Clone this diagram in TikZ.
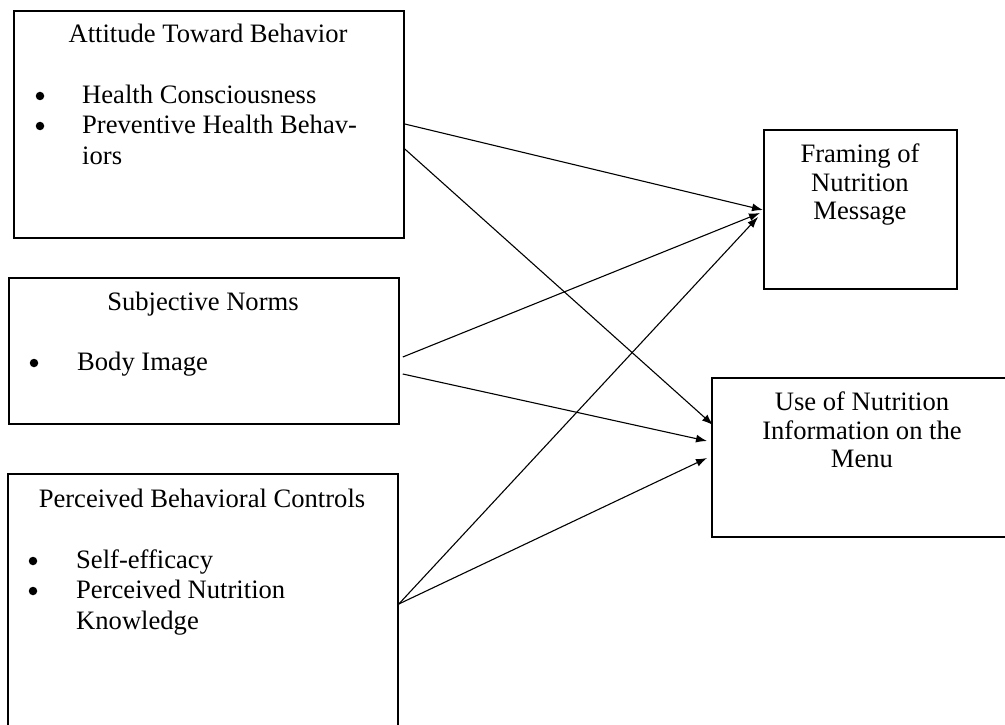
\documentclass[tikz,border=0pt]{standalone}
\usepackage{fontspec}
\setmainfont{Liberation Serif}
\usetikzlibrary{calc,arrows.meta}
\tikzset{
  box/.style={draw, line width=1.8pt, anchor=north west, inner sep=0pt},
  flow/.style={-{Latex[length=11pt,width=8pt]}, line width=1.1pt},
  title/.style={anchor=base, inner sep=0pt},
  dot/.style={circle, fill, inner sep=0pt, minimum size=8.5pt},
  item/.style={anchor=base west, inner sep=0pt},
  lines/.style={anchor=north west, inner sep=0pt, align=left},
  goal/.style={anchor=north, inner sep=0pt, align=center, font=\fontsize{26.6pt}{28.5pt}\selectfont},
}

\begin{document}
\begin{tikzpicture}[x=1pt, y=-1pt, font=\fontsize{26.6pt}{30.5pt}\selectfont]
\useasboundingbox (0,0) rectangle (1005,725);

\node[box, minimum width=390pt, minimum height=227pt] (att) at (13,10) {};
\node[box, minimum width=390pt, minimum height=146pt] (sub) at (8,277) {};
\node[box, minimum width=390pt, minimum height=262pt] (per) at (7,473) {};
\node[box, minimum width=193pt, minimum height=159pt] (frame) at (763,129) {};
\node[box, minimum width=302pt, minimum height=159pt] (use) at (711,377) {};

\node[title] (attT) at (208,43) {Attitude Toward Behavior};
\node[dot] (attD1) at (40,96) {};
\node[item] (attI1) at (82,103) {Health Consciousness};
\node[dot] (attD2) at (40,126) {};
\node[lines] (attI2) at (82,115) {Preventive Health Behav-\\iors};

\node[title] (subT) at (203,310) {Subjective Norms};
\node[dot] (subD1) at (34,363) {};
\node[item] (subI1) at (77,370) {Body Image};

\node[title] (perT) at (202,507) {Perceived Behavioral Controls};
\node[dot] (perD1) at (33,561) {};
\node[item] (perI1) at (76,568) {Self-efficacy};
\node[dot] (perD2) at (33,591) {};
\node[lines] (perI2) at (76,580) {Perceived Nutrition\\Knowledge};

\node[goal] (frameT) at (860,144) {Framing of\\Nutrition\\Message};
\node[goal] (useT) at (862,392) {Use of Nutrition\\Information on the\\Menu};

\draw[flow] ($(att.north east)+(0,114)$) -- ($(frame.north west)+(0,81)$);
\draw[flow] ($(att.north east)+(0,139)$) -- ($(use.north west)+(2,48)$);
\draw[flow] ($(sub.north east)+(3,80)$) -- ($(frame.north west)+(-3,84)$);
\draw[flow] ($(sub.north east)+(3,97)$) -- ($(use.north west)+(-4,64)$);
\draw[flow] ($(per.north east)+(0,131)$) -- ($(frame.north west)+(-5,88)$);
\draw[flow] ($(per.north east)+(0,131)$) -- ($(use.north west)+(-4,81)$);
\end{tikzpicture}
\end{document}
